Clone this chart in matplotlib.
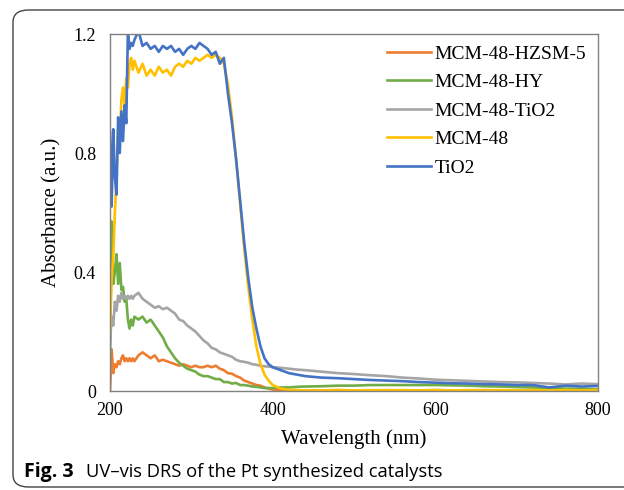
import matplotlib.pyplot as plt
from matplotlib.patches import FancyBboxPatch

# wavelength grid (nm) shared by all spectra
wavelength = [200, 202, 204, 206, 208, 210, 212, 214, 216, 218, 220, 222, 224, 226, 228, 230,
              235, 240, 245, 250, 255, 260, 265, 270, 275, 280, 285, 290, 295, 300,
              305, 310, 315, 320, 325, 330, 335, 340, 345, 350, 355, 360, 365, 370,
              375, 380, 385, 390, 395, 400,
              410, 420, 430, 440,
              460, 480, 500, 520, 540, 560, 580, 600, 620, 640, 660, 680, 700, 720,
              740, 760, 780, 800]

hzsm5 = [0.0, 0.14, 0.06, 0.09, 0.08, 0.10, 0.09, 0.11, 0.12, 0.10, 0.11, 0.10, 0.11, 0.10, 0.11, 0.10,
         0.12, 0.13, 0.12, 0.11, 0.12, 0.10, 0.105, 0.10, 0.095, 0.09, 0.085, 0.09, 0.085, 0.08,
         0.085, 0.08, 0.08, 0.085, 0.08, 0.085, 0.075, 0.07, 0.06, 0.058, 0.05, 0.045, 0.035, 0.03,
         0.025, 0.02, 0.018, 0.012, 0.008, 0.005,
         0.003, 0.002, 0.002, 0.002,
         0.002, 0.003, 0.002, 0.002, 0.003, 0.002, 0.002, 0.003, 0.002, 0.002, 0.003, 0.002, 0.002, 0.003,
         0.002, 0.002, 0.003, 0.002]

hy = [0.10, 0.57, 0.36, 0.40, 0.46, 0.36, 0.43, 0.34, 0.35, 0.30, 0.31, 0.24, 0.21, 0.24, 0.22, 0.25,
      0.24, 0.25, 0.23, 0.24, 0.22, 0.20, 0.18, 0.15, 0.13, 0.11, 0.095, 0.085, 0.075, 0.07,
      0.065, 0.055, 0.05, 0.05, 0.045, 0.04, 0.04, 0.03, 0.03, 0.025, 0.027, 0.02, 0.02, 0.018,
      0.015, 0.014, 0.012, 0.01, 0.01, 0.01,
      0.012, 0.012, 0.014, 0.015,
      0.016, 0.018, 0.018, 0.02, 0.02, 0.02, 0.02, 0.02, 0.019, 0.018, 0.016, 0.015, 0.013, 0.012,
      0.01, 0.008, 0.007, 0.006]

tio2_mcm = [0.16, 0.25, 0.22, 0.30, 0.27, 0.32, 0.30, 0.33, 0.31, 0.32, 0.31, 0.32, 0.31, 0.32, 0.31, 0.32,
            0.33, 0.31, 0.30, 0.29, 0.28, 0.285, 0.275, 0.28, 0.27, 0.26, 0.24, 0.235, 0.22, 0.21,
            0.20, 0.185, 0.17, 0.16, 0.145, 0.14, 0.13, 0.125, 0.12, 0.115, 0.105, 0.10, 0.098, 0.095,
            0.09, 0.088, 0.085, 0.083, 0.082, 0.08,
            0.078, 0.075, 0.072, 0.07,
            0.065, 0.06, 0.057, 0.053, 0.05, 0.045, 0.042, 0.038, 0.036, 0.034, 0.032, 0.03, 0.029, 0.027,
            0.025, 0.022, 0.025, 0.023]

mcm48 = [0.20, 0.38, 0.45, 0.60, 0.72, 0.88, 0.84, 0.98, 1.02, 0.96, 1.05, 1.02, 1.10, 1.12, 1.08, 1.11,
         1.07, 1.10, 1.06, 1.08, 1.06, 1.09, 1.07, 1.08, 1.06, 1.09, 1.10, 1.09, 1.11, 1.10,
         1.12, 1.11, 1.12, 1.13, 1.12, 1.13, 1.12, 1.10, 1.03, 0.92, 0.78, 0.63, 0.48, 0.35,
         0.24, 0.15, 0.09, 0.055, 0.035, 0.02,
         0.008, 0.004, 0.003, 0.002,
         0.002, 0.003, 0.002, 0.003, 0.002, 0.003, 0.002, 0.003, 0.002, 0.003, 0.002, 0.003, 0.002, 0.003,
         0.002, 0.003, 0.002, 0.003]

tio2 = [0.87, 0.62, 0.88, 0.72, 0.66, 0.92, 0.80, 0.94, 0.84, 0.96, 0.90, 1.21, 1.15, 1.17, 1.16, 1.18,
        1.21, 1.16, 1.17, 1.15, 1.16, 1.14, 1.16, 1.15, 1.16, 1.14, 1.15, 1.13, 1.15, 1.16,
        1.15, 1.17, 1.16, 1.15, 1.13, 1.14, 1.10, 1.12, 1.00, 0.90, 0.78, 0.64, 0.50, 0.38,
        0.28, 0.21, 0.15, 0.11, 0.09, 0.08,
        0.07, 0.06, 0.055, 0.05,
        0.045, 0.043, 0.04, 0.037, 0.035, 0.033, 0.03, 0.028, 0.026, 0.025, 0.023, 0.022, 0.02, 0.02,
        0.012, 0.018, 0.015, 0.017]

series = [("MCM-48-HZSM-5", hzsm5, "#ED7D31"),
          ("MCM-48-HY", hy, "#70AD47"),
          ("MCM-48-TiO2", tio2_mcm, "#A5A5A5"),
          ("MCM-48", mcm48, "#FFC000"),
          ("TiO2", tio2, "#4472C4")]

plt.rcParams['font.family'] = ['Liberation Serif', 'DejaVu Serif']

fig = plt.figure(figsize=(6.24, 4.9), dpi=100)

# rounded outer frame of the figure panel (runs off the right edge)
frame = FancyBboxPatch((13 / 624, 3 / 490), 1.2, 477 / 490,
                       boxstyle="round,pad=0,rounding_size=0.025",
                       transform=fig.transFigure, facecolor='none',
                       edgecolor='#444444', linewidth=1.0, zorder=-1)
fig.patches.append(frame)

ax = fig.add_axes([110 / 624, 99 / 490, 488 / 624, 357 / 490])

for label, values, color in series:
    ax.plot(wavelength, values, color=color, linewidth=1.9, label=label)

ax.set_xlim(200, 800)
ax.set_ylim(0, 1.2)
ax.set_xticks([200, 400, 600, 800])
ax.set_yticks([0, 0.4, 0.8, 1.2])
ax.set_yticklabels(['0', '0.4', '0.8', '1.2'])
ax.tick_params(length=0, labelsize=13, colors='black')
ax.tick_params(axis='x', pad=8)
ax.tick_params(axis='y', pad=10)
for side in ['left', 'right', 'top', 'bottom']:
    ax.spines[side].set_color('#808080')
    ax.spines[side].set_linewidth(1.0)

ax.set_xlabel('Wavelength (nm)', fontsize=15, labelpad=7)
ax.set_ylabel('Absorbance (a.u.)', fontsize=15, labelpad=9)

ax.legend(loc='upper left', bbox_to_anchor=(387 / 624, 1 - 45 / 490),
          bbox_transform=fig.transFigure, frameon=False, fontsize=14,
          handlelength=2.25, handletextpad=0.2, labelspacing=0.56,
          borderaxespad=0, borderpad=0)

fig.text(24 / 624, 13 / 490, 'Fig. 3', fontsize=14, fontweight='bold',
         family=['Open Sans', 'DejaVu Sans'], va='baseline')
fig.text(86 / 624, 13 / 490, 'UV\u2013vis DRS of the Pt synthesized catalysts', fontsize=13.2,
         family=['Open Sans', 'DejaVu Sans'], va='baseline')

fig.savefig('out.png', dpi=100)
